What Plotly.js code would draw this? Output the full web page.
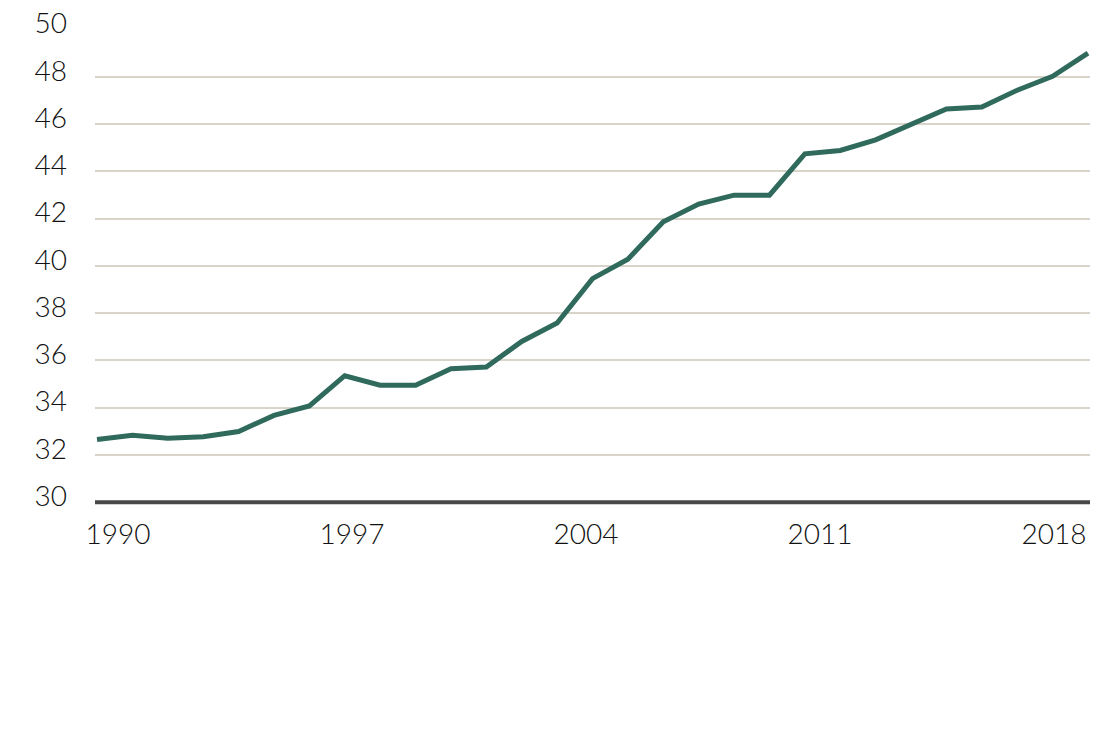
<!DOCTYPE html>
<html>
<head>
<meta charset="utf-8">
<script src="https://cdn.plot.ly/plotly-3.0.1.min.js"></script>
<style>
  html, body { margin: 0; padding: 0; background: #fff; }
  #chart { width: 1100px; height: 750px; }
</style>
</head>
<body>
<div id="chart"></div>
<script>
const years = [1990, 1991, 1992, 1993, 1994, 1995, 1996, 1997, 1998, 1999,
               2000, 2001, 2002, 2003, 2004, 2005, 2006, 2007, 2008, 2009,
               2010, 2011, 2012, 2013, 2014, 2015, 2016, 2017, 2018];
const values = [32.65, 32.83, 32.70, 32.77, 32.99, 33.67, 34.07, 35.35, 34.95, 34.95,
                35.65, 35.72, 36.80, 37.58, 39.46, 40.28, 41.86, 42.61, 42.99, 42.99,
                44.74, 44.88, 45.33, 45.96, 46.64, 46.72, 47.43, 48.02, 49.00];
const xTicks = [1990, 1997, 2004, 2011, 2018];
const yTicks = [30, 32, 34, 36, 38, 40, 42, 44, 46, 48, 50];

const lineColor = '#2f6a5c';
const gridColor = '#d8d4ca';
const baseColor = '#484848';
const tickFont = { family: 'Lato, sans-serif', size: 28, color: '#111', weight: 300 };

const layout = {
  width: 1100,
  height: 750,
  margin: { l: 95, r: 10, t: 29, b: 245 },
  paper_bgcolor: '#fff',
  plot_bgcolor: '#fff',
  showlegend: false,
  xaxis: {
    range: [1989.943, 2018.057],
    showticklabels: false,
    showgrid: false,
    zeroline: false,
    showline: false,
    ticks: '',
    fixedrange: true
  },
  // labels sit on their own scale, a little inset from the line ends
  xaxis2: {
    overlaying: 'x',
    anchor: 'y',
    side: 'bottom',
    range: [1989.312, 2019.077],
    tickvals: xTicks,
    ticktext: xTicks.map(String),
    tickfont: tickFont,
    ticklabelstandoff: 10,
    showgrid: false,
    zeroline: false,
    showline: false,
    ticks: '',
    fixedrange: true
  },
  yaxis: {
    range: [29.88, 50.02],  // a little room below 30 so the baseline isn't clipped
    tickvals: yTicks,
    ticktext: yTicks.map(String),
    tickfont: tickFont,
    ticklabelstandoff: 27,
    ticklabelshift: -6,
    showgrid: true,
    gridcolor: gridColor,
    gridwidth: 2,
    zeroline: false,
    showline: false,
    ticks: '',
    fixedrange: true
  },
  shapes: [{
    type: 'line',
    xref: 'paper', x0: 0, x1: 1,
    yref: 'y', y0: yTicks[0], y1: yTicks[0],
    line: { color: baseColor, width: 4 }
  }]
};

Plotly.newPlot('chart', [
  {
    x: years,
    y: values,
    mode: 'lines',
    line: { color: lineColor, width: 5 },
    type: 'scatter',
    hoverinfo: 'skip'
  },
  {
    x: xTicks,
    y: xTicks.map(() => null),
    xaxis: 'x2',
    yaxis: 'y',
    mode: 'lines',
    type: 'scatter',
    hoverinfo: 'skip'
  }
], layout, { displayModeBar: false, staticPlot: true });
</script>
</body>
</html>
